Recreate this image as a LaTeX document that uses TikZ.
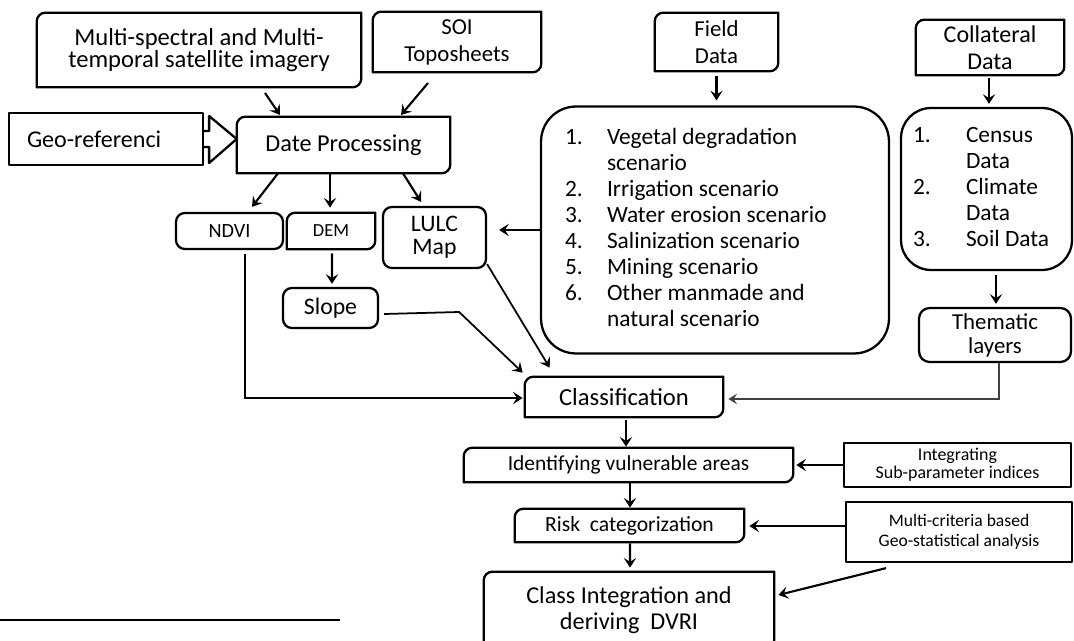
\documentclass[tikz,border=0pt]{standalone}
\usepackage{fontspec}
\setmainfont{Carlito}
\usetikzlibrary{arrows.meta,calc}
\newcommand\fsz[2]{\fontsize{#1}{#2}\selectfont}
\newcommand\dgframe[1]{\draw[boxline] ([yshift=-5pt]#1.north west) arc[start angle=180,end angle=90,radius=5pt] -- (#1.north east) -- ([yshift=5pt]#1.south east) arc[start angle=0,end angle=-90,radius=5pt] -- (#1.south west) -- cycle;}
\tikzset{
  boxline/.style={line width=1.3pt, line join=round},
  base/.style={inner sep=0pt, align=center, font=\fsz{13.5}{15}},
  rbox/.style={base, draw, boxline, rounded corners=5pt},
  sbox/.style={base, draw, boxline},
  arr/.style={line width=1.2pt, -{Stealth[length=5.5pt,width=7pt,inset=2.2pt]}},
  tarr/.style={line width=0.7pt, draw=black!75, -{Stealth[length=5pt,width=6pt,inset=2pt]}}
}
\begin{document}
\begin{tikzpicture}[x=0.02cm,y=-0.02cm]
\useasboundingbox (0,0) rectangle (1074,641);
\clip (0,0) rectangle (1074,641);

\node[base, font=\fsz{14}{13}, minimum width=6.48cm, minimum height=1.48cm] (multi) at (199,50) {Multi-spectral and Multi-\\temporal satellite imagery};
\node[base, font=\fsz{13}{15.3}, minimum width=3.36cm, minimum height=1.2cm] (soi) at (457,42) {SOI\\Toposheets};
\node[sbox, minimum width=3.88cm, minimum height=1.04cm, text width=3.16cm, align=left, inner xsep=0.36cm, font=\fsz{13.7}{15}] (geo) at (106,139) {Geo-referenci};
\node[base, font=\fsz{13.8}{15}, minimum width=4.26cm, minimum height=1.12cm] (date) at (343.5,145) {Date Processing};
\node[rbox, font=\fsz{11.5}{12}, minimum width=2.14cm, minimum height=0.72cm] (ndvi) at (229.5,231) {NDVI};
\node[base, font=\fsz{10.5}{12}, minimum width=1.76cm, minimum height=0.72cm] (dem) at (331,231) {DEM};
\node[rbox, font=\fsz{13.5}{13}, minimum width=2.06cm, minimum height=1.22cm] (lulc) at (434.5,237.5) {LULC\\Map};
\node[rbox, minimum width=1.9cm, minimum height=0.8cm] (slope) at (330.5,308) {Slope};
\node[base, font=\fsz{13}{15.3}, minimum width=2.46cm, minimum height=1.16cm] (field) at (716.5,42) {Field\\Data};
\node[rbox, rounded corners=0.7cm, font=\fsz{13.3}{14.8}, minimum width=6.96cm, minimum height=4.94cm] (scen) at (715,230) {%
\begin{tabular}{@{}p{0.84cm}@{}p{5.16cm}@{}}
1. & Vegetal degradation\\
   & scenario\\
2. & Irrigation scenario\\
3. & Water erosion scenario\\
4. & Salinization scenario\\
5. & Mining scenario\\
6. & Other manmade and\\
   & natural scenario
\end{tabular}};
\node[base, font=\fsz{13.7}{15.3}, minimum width=2.96cm, minimum height=1.1cm] (coll) at (990,47.5) {Collateral\\Data};
\node[rbox, rounded corners=0.6cm, font=\fsz{13.3}{14.8}, minimum width=3.42cm, minimum height=3.24cm] (colist) at (986.5,189) {%
\begin{tabular}{@{}p{1.06cm}@{}p{1.88cm}@{}}
1. & Census\\
   & Data\\
2. & Climate\\
   & Data\\
3. & Soil Data
\end{tabular}};
\node[rbox, rounded corners=6pt, font=\fsz{13}{13.6}, minimum width=3.04cm, minimum height=1.08cm] (them) at (995,335) {Thematic\\layers};
\node[base, font=\fsz{14}{15}, minimum width=3.96cm, minimum height=0.8cm] (clsf) at (624,397) {Classification};
\node[base, font=\fsz{12.2}{14}, minimum width=6.58cm, minimum height=0.68cm] (ident) at (628.5,465) {Identifying vulnerable areas};
\node[base, font=\fsz{12.3}{14}, minimum width=4.58cm, minimum height=0.66cm] (risk) at (629.5,525.5) {Risk\ \ categorization};
\node[base, font=\fsz{13.8}{14.7}, minimum width=5.8cm, minimum height=1.52cm] (cls) at (629,610) {Class Integration and\\deriving\ \ DVRI};
\node[sbox, font=\fsz{10.2}{10.5}, minimum width=4.54cm, minimum height=0.88cm] (integ) at (957.5,465) {Integrating\\Sub-parameter indices};
\node[sbox, font=\fsz{10}{11.3}, minimum width=4.52cm, minimum height=1.2cm] (mcrit) at (959,532) {Multi-criteria based\\Geo-statistical analysis};

\dgframe{multi}
\dgframe{soi}
\dgframe{date}
\dgframe{dem}
\dgframe{field}
\dgframe{coll}
\dgframe{clsf}
\dgframe{ident}
\dgframe{risk}
\dgframe{cls}

% block arrow
\draw[boxline, fill=white] ($(geo.east)+(0,-8)$) -- ++(5,0) -- ++(0,-15) -- (date.west |- geo.east) -- ($(geo.east)+(5,24)$) -- ++(0,-16) -- ++(-5,0);

\draw[arr] ($(multi)+(66,43)$) -- ($(date)+(-63.5,-30)$);
\draw[arr] ($(soi)+(-29,41)$) -- ($(date)+(57.5,-30)$);
\draw[arr] ($(date.south)+(-65.5,0)$) -- ($(ndvi.north)+(22.5,-5)$);
\draw[arr] ($(date.south)+(-13.5,0)$) -- ($(dem.north)+(-1,-5)$);
\draw[arr] ($(date.south)+(59.5,0)$) -- ($(lulc.north)+(-13.5,-4)$);
\draw[arr] ($(dem.south)+(1,4)$) -- ($(slope.north)+(1.5,-3)$);
\draw[arr] ($(ndvi.south)+(15.5,4)$) |- ($(clsf.west)+(-2,1)$);
\draw[arr, line width=1pt] ($(slope.east)+(5,6)$) -- ($(slope.east)+(80,4)$) -- ($(clsf.north west)+(-2,-4)$);
\draw[arr, line width=1pt] ($(lulc.south east)+(0,-5)$) -- ($(clsf.north west)+(25,-9)$);
\draw[arr] ($(scen.west)+(0,0)$) -- ($(lulc.east |- scen.west)+(12,0)$);
\draw[arr] ($(field.south)+(0,5)$) -- ($(field.south |- scen.north)+(0,-5)$);
\draw[arr] ($(coll.south)+(-1,3)$) -- ($(coll.south |- colist.north)+(-1,-3)$);
\draw[arr] ($(colist.south)+(9.5,4)$) -- ($(colist.south |- them.north)+(9.5,-3)$);
\draw[tarr] ($(them.south)+(4,0)$) |- ($(clsf.east)+(5,2)$);
\draw[arr] ($(clsf.south)+(2,3)$) -- ($(ident.north)+(-2.5,-1)$);
\draw[arr] ($(ident.south)+(1.5,1)$) -- ($(risk.north)+(0.5,-1)$);
\draw[arr] ($(risk.south)+(0.5,1)$) -- ($(cls.north)+(1,-4)$);
\draw[arr] (integ.west) -- ($(ident.east)+(3,0)$);
\draw[arr] ($(mcrit.west)+(0,-6)$) -- ($(risk.east |- mcrit.west)+(5,-6)$);
\draw[arr] ($(mcrit.south)+(-73,5)$) -- ($(cls.east)+(4,-15)$);

\draw[line width=1.1pt] (0,620) -- (340,620);
\end{tikzpicture}
\end{document}
